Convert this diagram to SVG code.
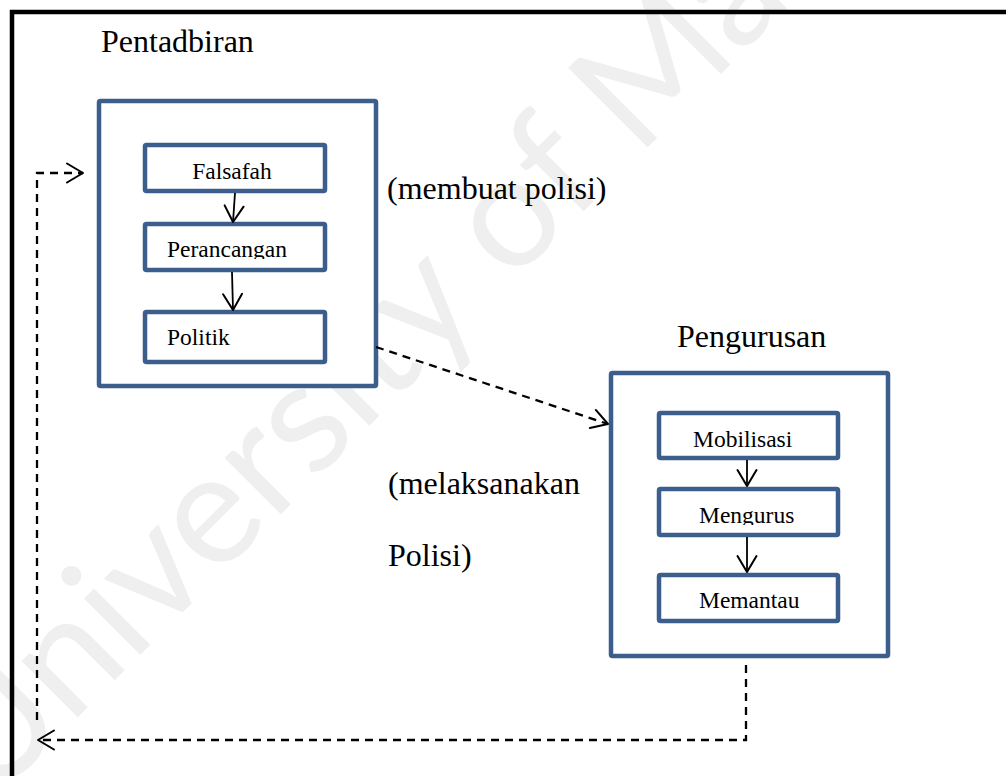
<svg xmlns="http://www.w3.org/2000/svg" width="1006" height="776" viewBox="0 0 1006 776">
  <style>
    .frame { fill: none; stroke: #000; stroke-width: 4.5; }
    .box { fill: #fff; stroke: #3B5E8C; stroke-width: 4.5; }
    .big { font-family: "Liberation Serif", "Times New Roman", serif; font-size: 32px; fill: #000; }
    .small { font-family: "Liberation Serif", "Times New Roman", serif; font-size: 23.5px; fill: #000; }
    .solid { fill: none; stroke: #000; stroke-width: 1.8; }
    .dash { fill: none; stroke: #000; stroke-width: 2.3; stroke-dasharray: 8 6; }
    .mark { font-family: Lato, "Open Sans", sans-serif; font-size: 157px; fill: #efefef; }
  </style>
  <defs>
    <marker id="open" markerUnits="userSpaceOnUse" markerWidth="22" markerHeight="24" refX="18" refY="11" orient="auto" overflow="visible">
      <path d="M2,1.5 L18,11 L2,20.5" fill="none" stroke="#000" stroke-width="2" stroke-linejoin="round" stroke-linecap="round"/>
    </marker>
    <clipPath id="clipPer"><rect x="145" y="224" width="180" height="35"/></clipPath>
    <clipPath id="clipMen"><rect x="659" y="489" width="179" height="36"/></clipPath>
  </defs>

  <rect width="1006" height="776" fill="#fff"/>

  <!-- background watermark -->
  <text class="mark" transform="translate(-10,805) rotate(-45)">University of Ma</text>

  <!-- page frame -->
  <path class="frame" d="M12,790 V12 H1020"/>

  <!-- free labels -->
  <text class="big" x="101" y="52">Pentadbiran</text>
  <text class="big" x="387" y="199">(membuat polisi)</text>
  <text class="big" x="677" y="347">Pengurusan</text>
  <text class="big" x="388" y="494">(melaksanakan</text>
  <text class="big" x="388" y="566">Polisi)</text>

  <!-- administration block -->
  <g id="pentadbiran">
    <rect class="box" x="99" y="101" width="277" height="285" rx="1.5"/>
  </g>
  <g id="falsafah">
    <rect class="box" x="145" y="145" width="180" height="46" rx="1.5"/>
    <text class="small" x="232" y="179" text-anchor="middle">Falsafah</text>
  </g>
  <g id="perancangan">
    <rect class="box" x="145" y="224" width="180" height="46" rx="1.5"/>
    <text class="small" x="167" y="257" clip-path="url(#clipPer)">Perancangan</text>
  </g>
  <g id="politik">
    <rect class="box" x="145" y="312" width="180" height="50" rx="1.5"/>
    <text class="small" x="167" y="345">Politik</text>
  </g>

  <!-- management block -->
  <g id="pengurusan">
    <rect class="box" x="611" y="373" width="277" height="283" rx="1.5"/>
  </g>
  <g id="mobilisasi">
    <rect class="box" x="659" y="413" width="179" height="45" rx="1.5"/>
    <text class="small" x="693" y="447">Mobilisasi</text>
  </g>
  <g id="mengurus">
    <rect class="box" x="659" y="489" width="179" height="46" rx="1.5"/>
    <text class="small" x="699" y="523" clip-path="url(#clipMen)">Mengurus</text>
  </g>
  <g id="memantau">
    <rect class="box" x="659" y="575" width="179" height="46" rx="1.5"/>
    <text class="small" x="699" y="608">Memantau</text>
  </g>

  <!-- connectors -->
  <g id="connectors">
    <path class="solid" d="M235,193 L233,222" marker-end="url(#open)"/>
    <path class="solid" d="M232,272 L233,310" marker-end="url(#open)"/>
    <path class="solid" d="M747,460 L747,486" marker-end="url(#open)"/>
    <path class="solid" d="M747,537 L747,572" marker-end="url(#open)"/>
    <path class="dash" d="M376,347 L608,424" marker-end="url(#open)"/>
    <path class="dash" d="M746,665 V740 H38" marker-end="url(#open)"/>
    <path class="dash" d="M37,720 V173 H83" marker-end="url(#open)"/>
  </g>
</svg>
